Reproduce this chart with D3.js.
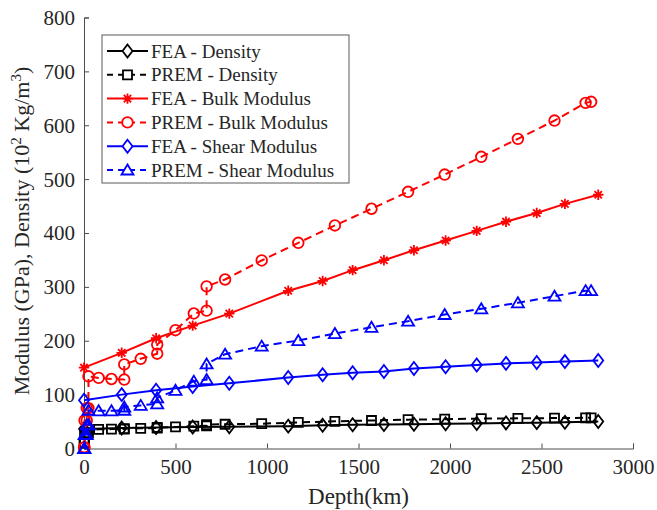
<!DOCTYPE html>
<html>
<head>
<meta charset="utf-8">
<script src="https://cdn.jsdelivr.net/npm/d3@7"></script>
<style>
  html, body { margin: 0; padding: 0; background: #fff; }
  svg { display: block; }
  svg text { font-family: 'Liberation Serif', 'Tinos', serif; fill: #262626; }
</style>
</head>
<body>
<svg id="chart" width="657" height="510"></svg>
<script>
// ---------- data ----------
const xTicks = [0, 500, 1000, 1500, 2000, 2500, 3000];
const yTicks = [0, 100, 200, 300, 400, 500, 600, 700, 800];

const feaDepth   = [0, 206, 394, 594, 794, 1116, 1304, 1468, 1639, 1803, 1976, 2146, 2306, 2474, 2628, 2810];
const feaDensity = [36, 38, 39, 40, 40.5, 41.5, 43, 44, 44.5, 45, 46, 46.5, 47.5, 48, 48.5, 50];
const feaBulk    = [150, 177.6, 204.7, 228, 250.4, 292.7, 311, 331, 349.5, 368, 386, 404, 421, 437, 454, 471];
const feaShear   = [89.6, 100, 108, 115, 121, 131.8, 137, 140.5, 143, 148.5, 151.6, 155, 158, 159.5, 161.3, 163.3];

const premDepth   = [0, 3, 3, 15, 15, 24.4, 24.4, 80, 150, 220, 220, 310, 400, 400, 500, 600, 670, 670, 771, 971, 1171, 1371, 1571, 1771, 1971, 2171, 2371, 2571, 2741, 2771];
const premDensity = [10, 10, 26, 26, 29, 29, 35, 35.5, 36, 36, 37, 37.5, 38, 39, 40, 41.5, 42, 44.5, 45, 46, 48.5, 50.5, 52, 53.5, 54.5, 55.5, 56, 56.5, 57, 57];
const premBulk    = [2, 2, 52, 52, 75, 75, 134, 131, 129, 128, 156, 166.5, 176, 193, 219.6, 250.6, 256, 301, 313.7, 349, 381.8, 414, 445, 476.5, 508.5, 541.4, 574.8, 608.7, 641.6, 643.5];
const premShear   = [0, 0, 26, 26, 44, 44, 71, 70, 70, 71, 77, 80, 83, 94, 108, 125, 128, 157, 175, 190, 200.4, 213.4, 225, 236.3, 248.7, 259.3, 270.4, 282.7, 293, 293];

const seriesNames = ["FEA - Density", "PREM - Density", "FEA - Bulk Modulus", "PREM - Bulk Modulus", "FEA - Shear Modulus", "PREM - Shear Modulus"];
const seriesColors = ["#000000", "#000000", "#ff0000", "#ff0000", "#0000ff", "#0000ff"];
const seriesMarkers = ["diamond", "square", "asterisk", "circle", "diamond", "triangle"];
const seriesDashed = [false, true, false, true, false, true];

const series = [
  { x: feaDepth, y: feaDensity },
  { x: premDepth, y: premDensity },
  { x: feaDepth, y: feaBulk },
  { x: premDepth, y: premBulk },
  { x: feaDepth, y: feaShear },
  { x: premDepth, y: premShear }
].map((s, i) => ({ ...s, name: seriesNames[i], color: seriesColors[i], marker: seriesMarkers[i], dashed: seriesDashed[i] }));

// ---------- layout ----------
const FONT = "'Liberation Serif', 'Tinos', serif";
const svg = d3.select("#chart").attr("font-family", FONT);
const plotLeft = 84, plotRight = 633, plotTop = 17.5, plotBottom = 448.5;
const x = d3.scaleLinear().domain([0, 3000]).range([plotLeft, plotRight]);
const y = d3.scaleLinear().domain([0, 800]).range([plotBottom, plotTop]);
const axisColor = "#4d4d4d";

// markers
function markerPath(type) {
  switch (type) {
    case "diamond": return "M0,-6.5L5,0L0,6.5L-5,0Z";
    case "square": return "M-4.5,-4.5H4.5V4.5H-4.5Z";
    case "triangle": return "M0,-5.5L6,4.5L-6,4.5Z";
    case "circle": return d3.symbol().type(d3.symbolCircle).size(Math.PI * 5.3 * 5.3)();
    case "asterisk": {
      const r = 5.2, d = r * Math.SQRT1_2;
      return `M${-r},0H${r}M0,${-r}V${r}M${-d},${-d}L${d},${d}M${-d},${d}L${d},${-d}`;
    }
  }
}

// axes
const xAxis = d3.axisBottom(x).tickValues(xTicks).tickSize(-5).tickPadding(11).tickFormat(d3.format("d"));
const yAxis = d3.axisLeft(y).tickValues(yTicks).tickSize(-5).tickPadding(9).tickFormat(d3.format("d"));

const gx = svg.append("g").attr("transform", `translate(0,${plotBottom})`).call(xAxis);
const gy = svg.append("g").attr("transform", `translate(${plotLeft},0)`).call(yAxis);
[gx, gy].forEach(g => {
  g.attr("font-family", FONT).attr("font-size", 21);
  g.select(".domain").attr("stroke", axisColor).attr("stroke-width", 1);
  g.selectAll(".tick line").attr("stroke", axisColor).attr("stroke-width", 1);
  g.selectAll(".tick text").attr("font-size", 21).attr("fill", "#262626").attr("font-family", FONT);
});
gx.selectAll(".tick text").attr("dy", "0.71em");
gy.selectAll(".tick text").attr("dy", "0.33em");

// axis titles
svg.append("text").attr("x", (plotLeft + plotRight) / 2).attr("y", 504)
  .attr("font-family", FONT)
  .attr("text-anchor", "middle").attr("font-size", 23).text("Depth(km)");

const yt = svg.append("text")
  .attr("font-family", FONT)
  .attr("transform", `translate(29,231) rotate(-90)`)
  .attr("text-anchor", "middle").attr("font-size", 22);
yt.append("tspan").text("Modulus (GPa), Density (10");
yt.append("tspan").attr("baseline-shift", "super").attr("font-size", 15).text("2");
yt.append("tspan").text(" Kg/m");
yt.append("tspan").attr("baseline-shift", "super").attr("font-size", 15).text("3");
yt.append("tspan").text(")");

// lines and markers
const line = d3.line().x(d => x(d[0])).y(d => y(d[1]));
series.forEach(s => {
  const pts = s.x.map((d, i) => [d, s.y[i]]);
  const g = svg.append("g");
  g.append("path").datum(pts)
    .attr("d", line).attr("fill", "none")
    .attr("stroke", s.color).attr("stroke-width", 2)
    .attr("stroke-dasharray", s.dashed ? "8,5" : null);
  g.selectAll("path.m").data(pts).join("path").attr("class", "m")
    .attr("transform", d => `translate(${x(d[0])},${y(d[1])})`)
    .attr("d", markerPath(s.marker))
    .attr("fill", "none").attr("stroke", s.color).attr("stroke-width", 1.8);
});

// legend
const lg = svg.append("g");
lg.append("rect").attr("x", 102).attr("y", 35).attr("width", 247).attr("height", 148)
  .attr("fill", "#fff").attr("stroke", "#5a5a5a").attr("stroke-width", 1);
series.forEach((s, i) => {
  const yy = 51 + i * 23.8;
  lg.append("line").attr("x1", 107).attr("x2", 148).attr("y1", yy).attr("y2", yy)
    .attr("stroke", s.color).attr("stroke-width", 2)
    .attr("stroke-dasharray", s.dashed ? "6,5" : null);
  lg.append("path").attr("transform", `translate(127.5,${yy})`).attr("d", markerPath(s.marker))
    .attr("fill", "#fff").attr("stroke", s.color).attr("stroke-width", 1.8);
  lg.append("text").attr("x", 151).attr("y", yy).attr("dy", "0.35em")
    .attr("font-family", FONT)
    .attr("font-size", 19).text(s.name);
});
</script>
</body>
</html>
